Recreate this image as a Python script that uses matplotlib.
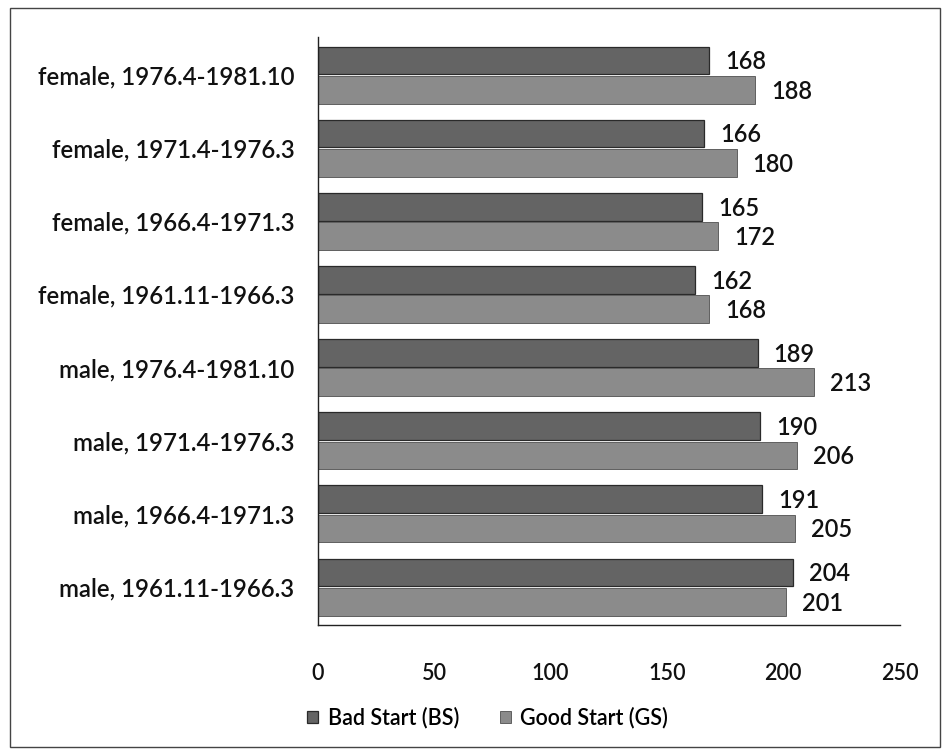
import matplotlib.pyplot as plt
import matplotlib.patches as patches
import numpy as np

plt.rcParams["font.family"] = ["Lato", "DejaVu Sans"]
plt.rcParams["font.weight"] = "semibold"

# cohorts listed bottom to top
cohorts = [
    "male, 1961.11-1966.3",
    "male, 1966.4-1971.3",
    "male, 1971.4-1976.3",
    "male, 1976.4-1981.10",
    "female, 1961.11-1966.3",
    "female, 1966.4-1971.3",
    "female, 1971.4-1976.3",
    "female, 1976.4-1981.10",
]
bad_start = [204, 191, 190, 189, 162, 165, 166, 168]
good_start = [201, 205, 206, 213, 168, 172, 180, 188]

BS_COLOR = "#646464"
GS_COLOR = "#8b8b8b"
TXT = "#111111"

fig = plt.figure(figsize=(9.49, 7.55), dpi=100)
ax = fig.add_axes([0.335, 0.172, 0.613, 0.779])

y = np.arange(len(cohorts))
h = 0.38
bs_bars = ax.barh(y + h / 2 + 0.01, bad_start, height=h, color=BS_COLOR,
                  edgecolor="#2a2a2a", linewidth=0.9, label="Bad Start (BS)")
gs_bars = ax.barh(y - h / 2 - 0.01, good_start, height=h, color=GS_COLOR,
                  edgecolor="#505050", linewidth=0.6, label="Good Start (GS)")

for bars, vals in ((bs_bars, bad_start), (gs_bars, good_start)):
    for b, v in zip(bars, vals):
        ax.annotate(str(v), (v, b.get_y() + b.get_height() / 2),
                    xytext=(11.5, -1), textcoords="offset points",
                    va="center", ha="left", fontsize=17, color=TXT)

ax.set_xlim(0, 250)
ax.set_ylim(-0.52, len(cohorts) - 0.48)
ax.set_xticks([0, 50, 100, 150, 200, 250])
ax.set_yticks(y)
ax.set_yticklabels(cohorts)
ax.tick_params(axis="x", length=0, pad=27, labelsize=15.5, labelcolor=TXT)
ax.tick_params(axis="y", length=0, pad=17, labelsize=17.3, labelcolor=TXT)
for s in ("top", "right"):
    ax.spines[s].set_visible(False)
for s in ("left", "bottom"):
    ax.spines[s].set_color("#222222")
    ax.spines[s].set_linewidth(1.0)

fig.legend(handles=[bs_bars, gs_bars], loc="center", ncol=2,
           bbox_to_anchor=(0.514, 0.049), frameon=False, fontsize=15.5,
           handlelength=0.5, handleheight=0.5, handletextpad=0.45,
           columnspacing=1.9)

# outer frame around the whole chart
fig.patches.append(patches.Rectangle((0.011, 0.01), 0.979, 0.979,
                                     transform=fig.transFigure, fill=False,
                                     edgecolor="#444444", linewidth=1.0))

fig.savefig("out.png", dpi=100, facecolor="white")
